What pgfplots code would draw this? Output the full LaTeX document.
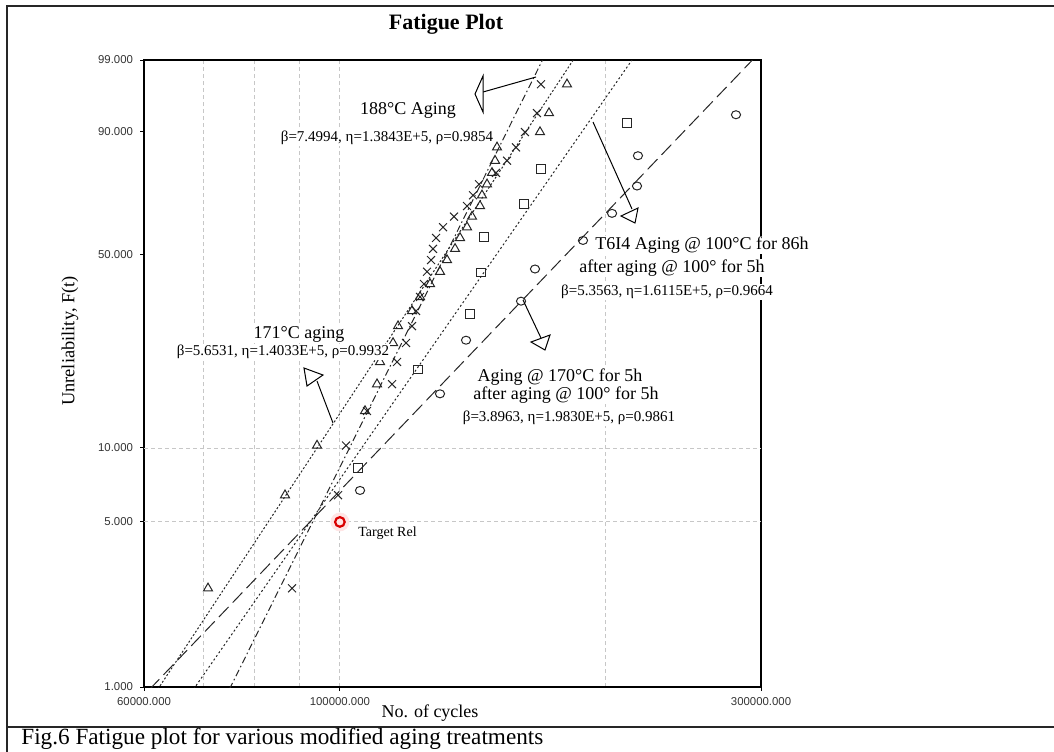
\documentclass[border=0pt]{standalone}
\usepackage{fontspec}
\setmainfont{Liberation Serif}
\newfontfamily\tickfont{Liberation Sans}
\usepackage{pgfplots}
\pgfplotsset{compat=1.18}
\usepackage{pgfplotstable}

% 188 C aging (crosses)
\pgfplotstableread{
t F
88265 2.652
99518 6.439
101617 10.227
107338 14.015
114570 17.803
116074 21.591
118832 25.379
120706 29.167
121971 32.955
123250 36.742
124543 40.530
125521 44.318
126838 48.106
127502 51.894
128503 55.682
130871 59.470
134681 63.258
139326 67.045
141523 70.833
143756 74.621
150275 78.409
154648 82.197
158321 85.985
162073 89.773
167229 93.561
168982 97.348
}\tabX
% 171 C aging (triangles)
\pgfplotstableread{
t F
70901 2.652
86668 6.439
94215 10.227
106779 14.015
110174 17.803
111040 21.591
114869 25.379
116377 29.167
120706 32.955
123250 36.742
126509 40.530
129853 44.318
132245 48.106
135033 51.894
136805 55.682
139326 59.470
141155 63.258
144132 67.045
144885 70.833
146787 74.621
148714 78.409
149883 82.197
150666 85.985
168543 89.773
172546 93.561
180841 97.348
}\tabT
% T6I4 (squares)
\pgfplotstableread{
t F
104850 8.333
122500 20.238
140400 32.143
144500 44.048
145600 55.952
161700 67.857
169000 79.762
211500 91.667
}\tabS
% Aging @170 (circles)
\pgfplotstableread{
t F
105400 6.731
129840 16.346
138970 25.962
160400 35.577
166360 45.192
188560 54.808
203370 64.423
217080 74.038
217600 83.654
281000 93.269
}\tabC

\begin{document}
\begin{tikzpicture}
\useasboundingbox (0,0) rectangle (527pt,-375.5pt);
\begin{axis}[
  at={(72pt,-343.5pt)}, anchor=south west,
  scale only axis, width=308.5pt, height=313.5pt,
  xmode=log, xmin=60000, xmax=300000,
  ymin=1, ymax=99,
  y coord trafo/.code={\pgfmathparse{ln(-ln(1-(#1)/100))}},
  y coord inv trafo/.code={\pgfmathparse{100*(1-exp(-exp(#1)))}},
  xtick={60000,100000,300000},
  xticklabels={60000.000,100000.000,300000.000},
  minor xtick={70000,80000,90000,200000},
  xmajorgrids, xminorgrids,
  ytick={1,50,90,99},
  yticklabels={1.000,50.000,90.000,99.000},
  extra y ticks={5,10},
  extra y tick labels={5.000,10.000},
  extra y tick style={grid=major},
  grid style={black!22, dash pattern=on 2pt off 1.5pt, line width=0.4pt},
  minor grid style={black!22, dash pattern=on 2pt off 1.5pt, line width=0.4pt},
  tick align=outside, major tick length=2pt, minor tick length=0pt,
  tick pos=left,
  tick style={black, line width=0.5pt},
  axis line style={line width=0.8pt},
  ticklabel style={font=\tickfont\fontsize{5.7}{6}\selectfont, text=black!80},
  xticklabel style={yshift=0.5pt},
]
% target reliability
\addplot[only marks, mark=*, mark size=4.5pt, color=red!10, forget plot] coordinates {(100000,5)};
\addplot[only marks, mark=o, mark size=2.4pt, draw=red!85!black, line width=1.1pt, forget plot] coordinates {(100000,5)};
% fitted Weibull lines (endpoints at F=1% and F=99%)
\addplot[black!85, line width=0.5pt, dash pattern=on 3.5pt off 1.5pt on 0.8pt off 1.5pt] coordinates {(74962,1) (169696,99)};
\addplot[black!85, line width=0.5pt, dash pattern=on 1pt off 1pt] coordinates {(62194,1) (183854,99)};
\addplot[black!85, line width=0.5pt, dash pattern=on 1pt off 1.2pt] coordinates {(68273,1) (214321,99)};
\addplot[black!85, line width=0.5pt, dash pattern=on 7pt off 3pt] coordinates {(60894,1) (293450,99)};
% data points
\addplot[only marks, mark=x, mark size=2.8pt, black!85, mark options={line width=0.5pt}] table[x=t,y=F]{\tabX};
\addplot[only marks, mark=triangle, mark size=2.6pt, black!85, mark options={line width=0.5pt}] table[x=t,y=F]{\tabT};
\addplot[only marks, mark=square, mark size=2.2pt, black!85, mark options={line width=0.5pt}] table[x=t,y=F]{\tabS};
\addplot[only marks, mark=o, mark size=2pt, black!85, mark options={line width=0.5pt, xscale=1.15}] table[x=t,y=F]{\tabC};
\end{axis}
\begin{scope}[x=0.5pt,y=-0.5pt]
% figure frame
\draw[line width=1pt, black!85] (7,752) -- (7,6) -- (1055,6);
\draw[line width=1pt, black!85] (7,727) -- (1055,727);
% titles
\node[font=\bfseries\fontsize{11}{13}\selectfont] at (446,24) {Fatigue Plot};
\node[font=\fontsize{9.2}{11}\selectfont, rotate=90] at (70,341) {Unreliability, F(t)};
\node[font=\fontsize{9}{11}\selectfont] at (430,713) {No. of cycles};
\node[anchor=base west, font=\fontsize{11.6}{13}\selectfont, inner sep=0pt] at (21,744.5) {Fig.6 Fatigue plot for various modified aging treatments};
% arrows
\draw[line width=0.5pt] (536,77) -- (483,92);
\draw[line width=0.5pt, fill=white] (483,76) -- (475,94) -- (483,112) -- cycle;
\draw[line width=0.5pt] (593,122) -- (632,209);
\draw[line width=0.5pt, fill=white] (621,216) -- (638,208) -- (635,223) -- cycle;
\draw[line width=0.5pt] (523,300) -- (541,338);
\draw[line width=0.5pt, fill=white] (531,342) -- (550,335) -- (545,350) -- cycle;
\draw[line width=0.5pt] (333,423) -- (317,381);
\draw[line width=0.5pt, fill=white] (304,368) -- (323,375) -- (307,386) -- cycle;
% labels
\node[fill=white, inner sep=0.5pt, font=\fontsize{9}{10}\selectfont] at (408,110) {188°C Aging};
\node[fill=white, inner sep=0.5pt, font=\fontsize{7.5}{8}\selectfont] at (387,138) {β=7.4994, η=1.3843E+5, ρ=0.9854};
\node[fill=white, inner sep=0.5pt, font=\fontsize{9}{10}\selectfont] at (299,334) {171°C aging};
\node[fill=white, inner sep=0.5pt, font=\fontsize{7.5}{8}\selectfont] at (283,352) {β=5.6531, η=1.4033E+5, ρ=0.9932};
\node[fill=white, inner sep=0.5pt, font=\fontsize{9}{10}\selectfont] at (702,245) {T6I4 Aging @ 100°C for 86h};
\node[fill=white, inner sep=0.5pt, font=\fontsize{9}{10}\selectfont] at (672,268) {after aging @ 100° for 5h};
\node[fill=white, inner sep=0.5pt, font=\fontsize{7.5}{8}\selectfont] at (667,292) {β=5.3563, η=1.6115E+5, ρ=0.9664};
\node[fill=white, inner sep=0.5pt, font=\fontsize{9}{10}\selectfont] at (560,377) {Aging @ 170°C for 5h};
\node[fill=white, inner sep=0.5pt, font=\fontsize{9}{10}\selectfont] at (566,395) {after aging @ 100° for 5h};
\node[fill=white, inner sep=0.5pt, font=\fontsize{7.5}{8}\selectfont] at (569,418) {β=3.8963, η=1.9830E+5, ρ=0.9861};
\node[anchor=west, inner sep=0pt, font=\fontsize{7}{8}\selectfont] at (358,533) {Target Rel};
\end{scope}
\end{tikzpicture}
\end{document}
